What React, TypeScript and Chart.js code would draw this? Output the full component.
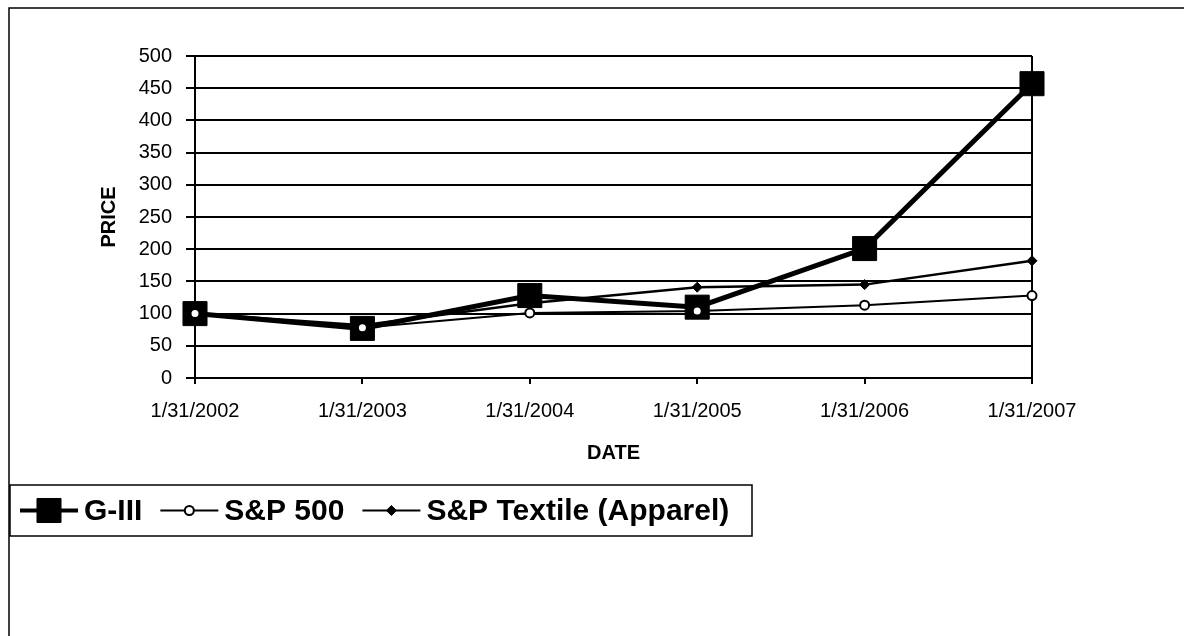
import React, { useEffect, useRef } from "react";
import { Chart, registerables } from "chart.js";

Chart.register(...registerables);

const categories = ["1/31/2002", "1/31/2003", "1/31/2004", "1/31/2005", "1/31/2006", "1/31/2007"];
const g3Values = [100, 77, 128, 110, 201, 457];
const sp500Values = [100, 78, 101, 104, 113, 128];
const textileValues = [100, 82, 116, 141, 145, 182];
const yMin = 0;
const yMax = 500;
const yStep = 50;

const FONT = '"Liberation Sans", Arial, Helvetica, sans-serif';

function drawMarker(ctx: CanvasRenderingContext2D, style: string, x: number, y: number, r: number, fill: string, stroke: string, bw: number) {
  ctx.save();
  ctx.fillStyle = fill;
  ctx.strokeStyle = stroke;
  ctx.lineWidth = bw;
  ctx.beginPath();
  if (style === "rect") {
    const s = Math.SQRT1_2 * r;
    ctx.rect(x - s, y - s, 2 * s, 2 * s);
  } else if (style === "rectRot") {
    ctx.moveTo(x, y - r);
    ctx.lineTo(x + r, y);
    ctx.lineTo(x, y + r);
    ctx.lineTo(x - r, y);
    ctx.closePath();
  } else {
    ctx.arc(x, y, r, 0, Math.PI * 2);
  }
  ctx.fill();
  if (bw > 0) ctx.stroke();
  ctx.restore();
}

const framePlugin = {
  id: "frame",
  beforeDraw(chart: any) {
    const ctx = chart.ctx;
    ctx.save();
    ctx.fillStyle = "#fff";
    ctx.fillRect(0, 0, chart.width, chart.height);
    ctx.strokeStyle = "#000";
    ctx.lineWidth = 1.5;
    ctx.beginPath();
    ctx.moveTo(9, chart.height);
    ctx.lineTo(9, 8);
    ctx.lineTo(chart.width, 8);
    ctx.stroke();
    ctx.restore();
  },
};

const boxLegendPlugin = {
  id: "boxLegend",
  afterDraw(chart: any) {
    const ctx = chart.ctx;
    ctx.save();
    const bx = 10, by = 485, bw = 742, bh = 51;
    ctx.strokeStyle = "#000";
    ctx.lineWidth = 1.5;
    ctx.strokeRect(bx, by, bw, bh);
    const cy = by + bh / 2;
    let x = 20;
    ctx.font = `bold 30px ${FONT}`;
    ctx.textBaseline = "middle";
    ctx.textAlign = "left";
    chart.data.datasets.forEach((ds: any) => {
      ctx.strokeStyle = "#000";
      ctx.lineWidth = ds.legendLineWidth;
      ctx.beginPath();
      ctx.moveTo(x, cy);
      ctx.lineTo(x + 58, cy);
      ctx.stroke();
      drawMarker(ctx, ds.pointStyle, x + 29, cy, ds.pointRadius, ds.pointBackgroundColor, ds.pointBorderColor, ds.pointBorderWidth);
      x += 64;
      ctx.fillStyle = "#000";
      ctx.fillText(ds.label, x, cy + 1);
      x += ctx.measureText(ds.label).width + 18;
    });
    ctx.restore();
  },
};

export default function App() {
  const canvasRef = useRef<HTMLCanvasElement | null>(null);

  useEffect(() => {
    if (!canvasRef.current) return;
    const last = categories.length - 1;
    const chart = new Chart(canvasRef.current, {
      type: "line",
      data: {
        labels: categories,
        datasets: [
          {
            label: "G-III",
            data: g3Values,
            borderColor: "#000",
            backgroundColor: "#000",
            borderWidth: 5,
            pointStyle: "rect",
            pointRadius: 17,
            pointBackgroundColor: "#000",
            pointBorderColor: "#000",
            pointBorderWidth: 1,
            tension: 0,
            order: 3,
            legendLineWidth: 4,
          } as any,
          {
            label: "S&P 500",
            data: sp500Values,
            borderColor: "#000",
            backgroundColor: "#fff",
            borderWidth: 2,
            pointStyle: "circle",
            pointRadius: 4.5,
            pointBackgroundColor: "#fff",
            pointBorderColor: "#000",
            pointBorderWidth: 2,
            tension: 0,
            order: 1,
            legendLineWidth: 2,
          } as any,
          {
            label: "S&P Textile (Apparel)",
            data: textileValues,
            borderColor: "#000",
            backgroundColor: "#000",
            borderWidth: 2.5,
            pointStyle: "rectRot",
            pointRadius: 5,
            pointBackgroundColor: "#000",
            pointBorderColor: "#000",
            pointBorderWidth: 1,
            tension: 0,
            order: 2,
            legendLineWidth: 2,
          } as any,
        ],
      },
      options: {
        animation: false,
        responsive: false,
        events: [],
        layout: { padding: { left: 97, top: 56, right: 152, bottom: 171 } },
        plugins: {
          legend: { display: false },
          tooltip: { enabled: false },
          title: { display: false },
        },
        scales: {
          x: {
            type: "category",
            offset: false,
            grid: {
              display: true,
              drawOnChartArea: true,
              color: (c: any) => (c.index === last ? "#000" : "rgba(0,0,0,0)"),
              lineWidth: 2,
              tickColor: "#000",
              tickLength: 6,
            },
            border: { display: true, color: "#000", width: 2 },
            ticks: {
              color: "#000",
              font: { family: FONT, size: 20 },
              padding: 15,
              maxRotation: 0,
              autoSkip: false,
            },
            title: {
              display: true,
              text: "DATE",
              color: "#000",
              font: { family: FONT, size: 20, weight: "bold" },
              padding: { top: 0, bottom: 0 },
            },
            afterFit: (scale: any) => {
              scale.height = 87;
            },
          },
          y: {
            min: yMin,
            max: yMax,
            ticks: {
              stepSize: yStep,
              color: "#000",
              font: { family: FONT, size: 20 },
              padding: 14,
            },
            grid: {
              color: "#000",
              lineWidth: 2,
              tickColor: "#000",
              tickLength: 9,
            },
            border: { display: true, color: "#000", width: 2 },
            title: {
              display: true,
              text: "PRICE",
              color: "#000",
              font: { family: FONT, size: 20, weight: "bold" },
              padding: { top: 0, bottom: 0 },
            },
            afterFit: (scale: any) => {
              scale.width = 98;
            },
          },
        },
      },
      plugins: [framePlugin, boxLegendPlugin],
    });
    return () => chart.destroy();
  }, []);

  return (
    <div style={{ position: "fixed", left: 0, top: 0, width: 1184, height: 636, background: "#fff" }}>
      <canvas ref={canvasRef} width={1184} height={636} style={{ display: "block", width: 1184, height: 636 }} />
    </div>
  );
}
